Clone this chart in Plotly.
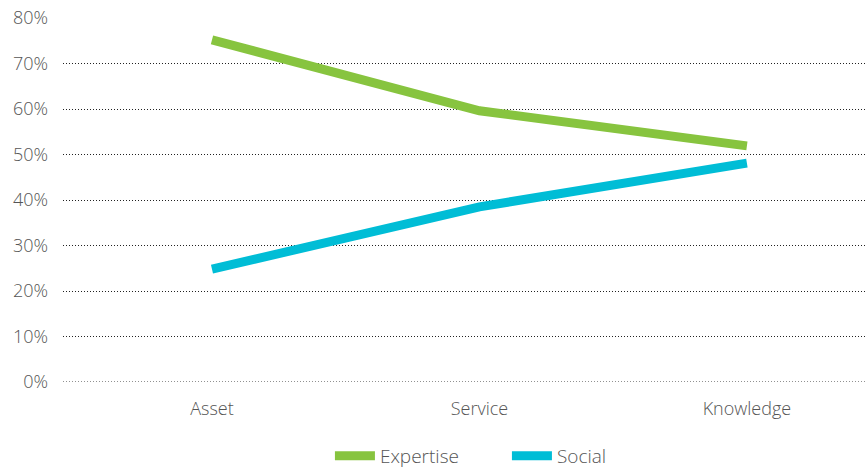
import plotly.graph_objects as go

categories = ["Asset", "Service", "Knowledge"]
expertise = [75.2, 59.6, 51.9]
social = [24.8, 38.5, 48.1]
y_ticks = [0, 10, 20, 30, 40, 50, 60, 70, 80]

GREEN = "#87C43F"
CYAN = "#00BDD6"
TEXT = "#555555"
GRID = "#222222"
FONT = "Open Sans"
DOTS = "1px,2px"

fig = go.Figure()
fig.add_trace(go.Scatter(x=categories, y=expertise, name="Expertise", mode="lines",
                         line=dict(color=GREEN, width=9)))
fig.add_trace(go.Scatter(x=categories, y=social, name="Social", mode="lines",
                         line=dict(color=CYAN, width=9)))

fig.update_layout(
    width=867, height=468,
    margin=dict(l=63, r=0, t=18, b=86, autoexpand=False),
    paper_bgcolor="white", plot_bgcolor="white",
    font=dict(family=FONT, size=18, color=TEXT, weight=300),
    showlegend=True,
    legend=dict(orientation="h", x=0.332, xanchor="left", y=-0.203, yanchor="middle",
                font=dict(family=FONT, size=19, color=TEXT, weight=300), itemwidth=40,
                traceorder="normal", entrywidthmode="pixels", entrywidth=122),
    xaxis=dict(type="category", range=[-0.557, 2.449], showgrid=False, showline=False,
               zeroline=False, ticks="", ticklabelstandoff=14,
               tickfont=dict(family=FONT, size=18, color=TEXT, weight=300)),
    yaxis=dict(range=[0, 80], tickvals=y_ticks, ticktext=[f"{v}%" for v in y_ticks],
               showgrid=True, gridcolor=GRID, gridwidth=1, griddash=DOTS,
               zeroline=False, showline=False, ticks="", ticklabelstandoff=14,
               tickfont=dict(family=FONT, size=18, color=TEXT, weight=300)),
)

fig.add_hline(y=0, line=dict(color=GRID, width=1, dash=DOTS), layer="below")

fig.write_html("out.html")
